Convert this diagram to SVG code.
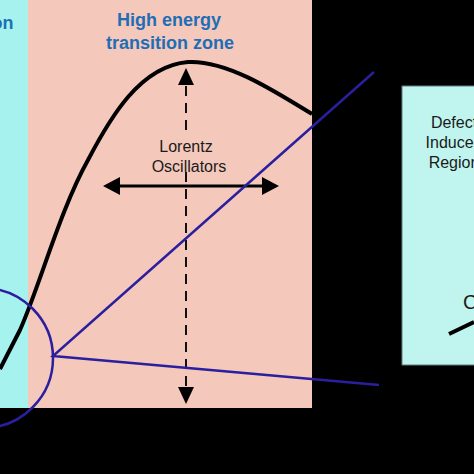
<svg xmlns="http://www.w3.org/2000/svg" width="474" height="474" viewBox="0 0 474 474">
<style>
.zone{font-family:"Liberation Sans",Arial,sans-serif;font-weight:bold;font-size:18px;fill:#1f6eb5;text-anchor:middle}
.lbl{font-family:"Liberation Sans",Arial,sans-serif;font-size:16px;fill:#1a1a1a;text-anchor:middle}
.blue{stroke:#2a1f9e;stroke-width:2.5;fill:none}
.dash{stroke:#111;stroke-width:2;stroke-dasharray:10 7;fill:none}
</style>
<defs>
<marker id="ah" viewBox="0 0 10 10" refX="10" refY="5" markerWidth="6" markerHeight="6" orient="auto" markerUnits="strokeWidth">
<path d="M0,0 L10,5 L0,10 z" fill="#000"/>
</marker>
</defs>
<rect width="474" height="474" fill="#000"/>
<g id="low-zone">
<rect x="0" y="0" width="28" height="408" fill="#a6f2ee"/>
<text class="zone" x="13.5" y="29" style="text-anchor:end">ion</text>
</g>
<g id="high-zone">
<rect x="28" y="0" width="284" height="408" fill="#f5c8bc"/>
<text class="zone" x="169" y="26">High energy</text>
<text class="zone" x="170" y="49">transition zone</text>
</g>
<g id="defect-zone">
<rect x="402" y="86" width="80" height="279" fill="#c0f5ef" stroke="#5f7f7c" stroke-width="1"/>
<text class="lbl" x="454" y="128">Defect</text>
<text class="lbl" x="454" y="148">Induced</text>
<text class="lbl" x="454" y="168">Region</text>
<text class="lbl" x="463" y="309" style="text-anchor:start;font-size:20px">C</text>
<path d="M449,334 L474,322" stroke="#000" stroke-width="4" fill="none"/>
</g>
<g id="curve">
<path d="M0,369 L20,330 C40,285 60,210 88,160 C110,118 140,66 188,62 C225,60 270,88 312,114" stroke="#000" stroke-width="4" fill="none" stroke-linejoin="round"/>
</g>
<g id="lorentz">
<text class="lbl" x="186" y="152">Lorentz</text>
<text class="lbl" x="189" y="172">Oscillators</text>
</g>
<g id="connectors">
<path class="dash" d="M186,86 L186,134"/>
<path class="dash" d="M186,172 L186,388"/>
<path d="M178,85 L186,68 L194,85 z" fill="#000"/>
<path d="M178,387 L186,404 L194,387 z" fill="#000"/>
<path d="M118,186 L264,186" stroke="#000" stroke-width="3"/>
<path d="M120,177 L103,186 L120,195 z" fill="#000"/>
<path d="M262,177 L279,186 L262,195 z" fill="#000"/>
<circle class="blue" cx="-17" cy="358" r="70"/>
<path class="blue" d="M374,72 L53,356 L379,385"/>
</g>
</svg>
